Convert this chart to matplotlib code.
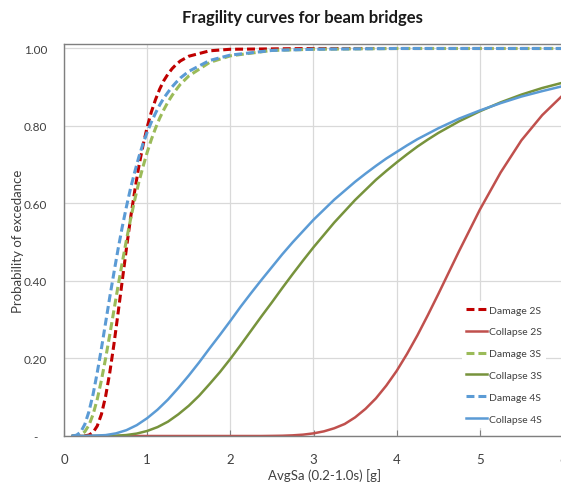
import matplotlib
matplotlib.use('Agg')
import matplotlib.pyplot as plt
from matplotlib.ticker import FixedLocator, FixedFormatter

plt.rcParams['font.family'] = ['Lato', 'DejaVu Sans']

# values
x_damage = [0.1, 0.15, 0.2, 0.25, 0.3, 0.35, 0.4, 0.45, 0.5, 0.55, 0.6, 0.65, 0.7, 0.75,
            0.8, 0.85, 0.9, 0.95, 1.0, 1.05, 1.1, 1.15, 1.2, 1.25, 1.3, 1.35, 1.4, 1.5,
            1.75, 2.0, 2.5, 3.0, 3.5, 4.0, 5.0, 6.0]
damage_2s = [0.0, 0.0, 0.0, 0.0004, 0.0024, 0.0094, 0.026, 0.056, 0.102, 0.163, 0.236,
             0.317, 0.40, 0.483, 0.562, 0.632, 0.696, 0.750, 0.797, 0.836, 0.868, 0.895,
             0.917, 0.934, 0.948, 0.959, 0.968, 0.980, 0.994, 0.998, 0.999, 1.0, 1.0, 1.0,
             1.0, 1.0]
damage_3s = [0.0, 0.0004, 0.003, 0.011, 0.028, 0.056, 0.095, 0.144, 0.20, 0.261, 0.324,
             0.387, 0.447, 0.505, 0.559, 0.609, 0.655, 0.695, 0.732, 0.765, 0.794, 0.820,
             0.842, 0.862, 0.879, 0.894, 0.908, 0.929, 0.964, 0.981, 0.995, 0.998, 0.999,
             1.0, 1.0, 1.0]
damage_4s = [0.0001, 0.0021, 0.010, 0.030, 0.063, 0.108, 0.164, 0.226, 0.292, 0.358, 0.421,
             0.482, 0.539, 0.591, 0.639, 0.681, 0.720, 0.754, 0.784, 0.810, 0.833, 0.854,
             0.872, 0.887, 0.901, 0.913, 0.924, 0.941, 0.969, 0.983, 0.995, 0.998, 0.999,
             1.0, 1.0, 1.0]

x_collapse = [0.1, 0.25, 0.5, 0.625, 0.75, 0.875, 1.0, 1.125, 1.25, 1.375, 1.5, 1.625,
              1.75, 1.875, 2.0, 2.125, 2.25, 2.375, 2.5, 2.625, 2.75, 2.875, 3.0, 3.125,
              3.25, 3.375, 3.5, 3.625, 3.75, 3.875, 4.0, 4.125, 4.25, 4.375, 4.5, 4.75,
              5.0, 5.25, 5.5, 5.75, 6.0]
collapse_2s = [0, 0, 0, 0, 0, 0, 0, 0, 0, 0, 0, 0, 0, 0, 0, 0, 0, 0, 0.0003, 0.0007,
               0.0017, 0.0035, 0.0068, 0.012, 0.020, 0.031, 0.048, 0.070, 0.097, 0.130,
               0.168, 0.212, 0.260, 0.312, 0.366, 0.477, 0.584, 0.680, 0.763, 0.828, 0.880]
collapse_3s = [0, 0, 0.0001, 0.0008, 0.0025, 0.0063, 0.013, 0.023, 0.037, 0.056, 0.078,
               0.104, 0.134, 0.165, 0.199, 0.235, 0.272, 0.309, 0.345, 0.382, 0.418, 0.453,
               0.487, 0.519, 0.551, 0.580, 0.609, 0.635, 0.661, 0.684, 0.706, 0.727, 0.747,
               0.765, 0.782, 0.812, 0.838, 0.861, 0.881, 0.898, 0.912]
collapse_4s = [0, 0, 0.0023, 0.0068, 0.015, 0.028, 0.046, 0.068, 0.094, 0.124, 0.156,
               0.190, 0.226, 0.261, 0.297, 0.334, 0.369, 0.403, 0.436, 0.469, 0.5, 0.529,
               0.558, 0.584, 0.610, 0.633, 0.656, 0.677, 0.697, 0.716, 0.733, 0.750, 0.766,
               0.780, 0.794, 0.819, 0.840, 0.859, 0.876, 0.890, 0.903]

y_ticks = [0, 0.2, 0.4, 0.6, 0.8, 1.0]
y_labels = ['-   ', '0.20', '0.40', '0.60', '0.80', '1.00']
x_ticks = [0, 1, 2, 3, 4, 5, 6]

fig = plt.figure(figsize=(5.61, 4.89), dpi=100)
ax = fig.add_axes([64 / 561, 52 / 489, 499 / 561, 392 / 489])

dash = (2.6, 1.3)
ax.plot(x_damage, damage_2s, color='#C00000', lw=2.2, dashes=dash, label='Damage 2S')
ax.plot(x_collapse, collapse_2s, color='#C0504D', lw=1.8, label='Collapse 2S')
ax.plot(x_damage, damage_3s, color='#9BBB59', lw=2.2, dashes=dash, label='Damage 3S')
ax.plot(x_collapse, collapse_3s, color='#77933C', lw=1.8, label='Collapse 3S')
ax.plot(x_damage, damage_4s, color='#5B9BD5', lw=2.2, dashes=dash, label='Damage 4S')
ax.plot(x_collapse, collapse_4s, color='#5B9BD5', lw=1.8, label='Collapse 4S')

ax.set_xlim(0, 6)
ax.set_ylim(0, 1.0116)
ax.xaxis.set_major_locator(FixedLocator(x_ticks))
ax.yaxis.set_major_locator(FixedLocator(y_ticks))
ax.yaxis.set_major_formatter(FixedFormatter(y_labels))
ax.grid(True, color='#D9D9D9', lw=0.9)
ax.set_axisbelow(True)
ax.tick_params(axis='x', direction='in', length=4, color='#7F7F7F', labelsize=9.5,
               labelcolor='#404040', pad=12)
ax.tick_params(axis='y', length=0, labelsize=8.5, labelcolor='#404040', pad=12)
for side in ['left', 'top', 'bottom', 'right']:
    ax.spines[side].set_color('#7F7F7F')
    ax.spines[side].set_linewidth(1.0)

fig.text(302 / 561, 1 - 18 / 489, 'Fragility curves for beam bridges', fontsize=12,
         fontweight='bold', color='#1A1A1A', ha='center', va='center')
ax.set_xlabel('AvgSa (0.2-1.0s) [g]', fontsize=9.5, color='#404040')
ax.xaxis.set_label_coords((325 - 64) / 499, -32 / 392)
ax.set_ylabel('Probability of excedance', fontsize=9.5, color='#404040')
ax.yaxis.set_label_coords(-40 / 499, 0.5)

leg = ax.legend(loc='lower right', bbox_to_anchor=((551 - 64) / 499, 3 / 392),
                frameon=True, fontsize=7.5, handlelength=2.0, handletextpad=0.15,
                labelspacing=1.2, borderpad=0.4)
leg.get_frame().set_edgecolor('none')
leg.get_frame().set_facecolor('white')
leg.get_frame().set_alpha(1.0)
for t in leg.get_texts():
    t.set_color('#404040')

fig.savefig('out.png', dpi=100)
